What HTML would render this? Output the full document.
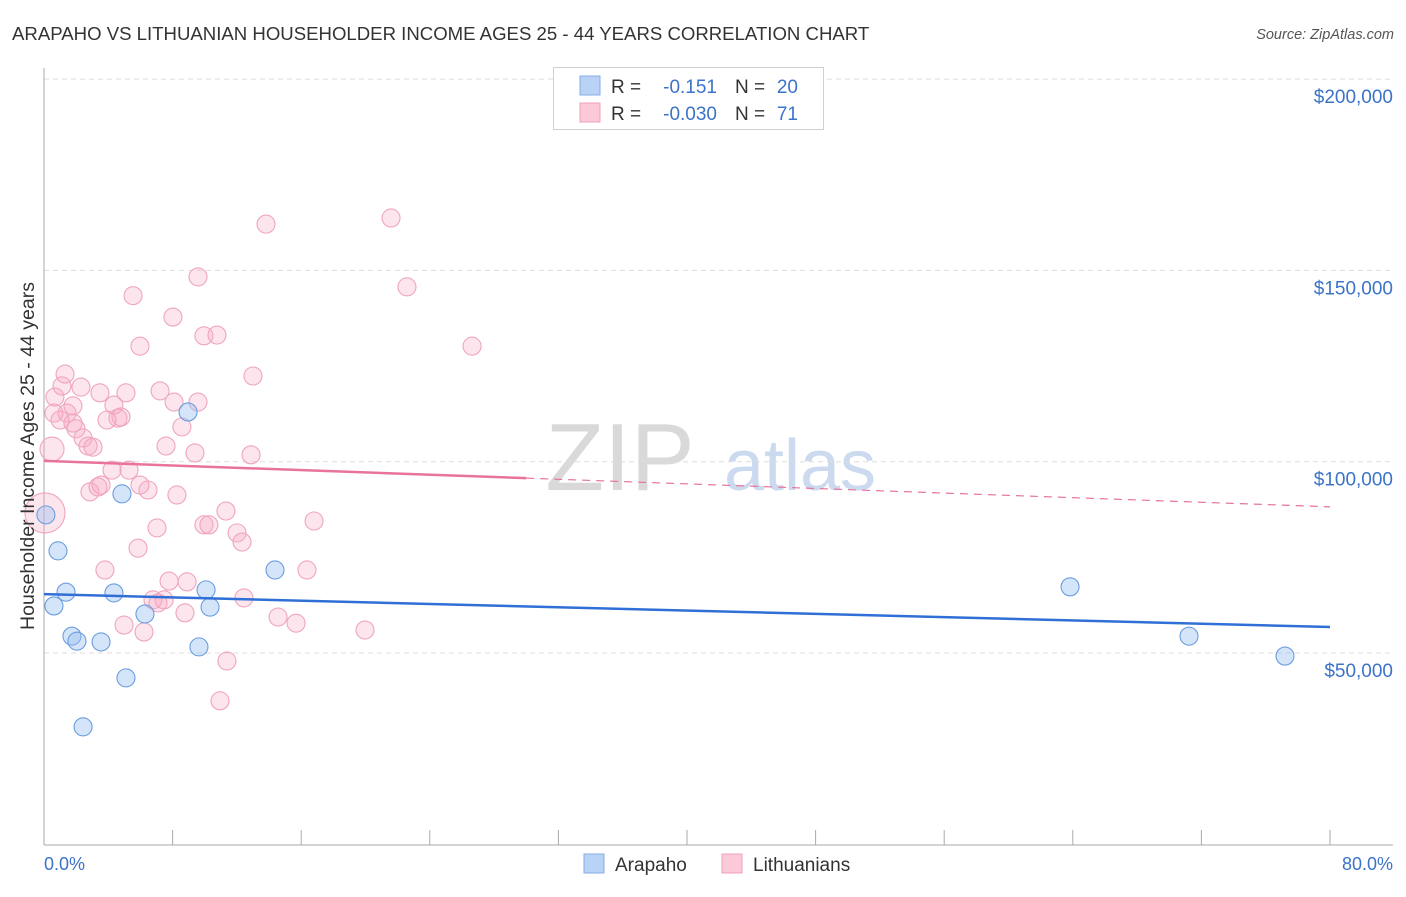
<!DOCTYPE html>
<html><head><meta charset="utf-8"><style>
body{margin:0;background:#fff;font-family:"Liberation Sans",sans-serif;}
svg text{font-family:"Liberation Sans",sans-serif;}
</style></head><body>
<svg id="c" width="1406" height="892" xmlns="http://www.w3.org/2000/svg">
<text x="12" y="40" font-size="18.6" fill="#333">ARAPAHO VS LITHUANIAN HOUSEHOLDER INCOME AGES 25 - 44 YEARS CORRELATION CHART</text>
<text x="1394" y="39" font-size="14.5" fill="#555" font-style="italic" text-anchor="end">Source: ZipAtlas.com</text>
<text x="620" y="490" font-size="96" fill="#d9d9d9" font-family="Liberation Serif" text-anchor="middle">ZIP</text>
<text x="800" y="490" font-size="72" fill="#cbdaef" text-anchor="middle">atlas</text>
<g id="grid"></g><g id="axes"></g><g id="pts"></g><g id="trend"></g>
<text transform="translate(34,456) rotate(-90)" font-size="19.5" fill="#333" text-anchor="middle">Householder Income Ages 25 - 44 years</text>
<text x="44" y="870" font-size="18" fill="#3b73c8">0.0%</text>
<text x="1393" y="870" font-size="18" fill="#3b73c8" text-anchor="end">80.0%</text>
<g>
<rect x="553.5" y="67.5" width="270" height="62" fill="#fff" stroke="#d0d0d0"/>
<rect x="580" y="76" width="20" height="19" fill="#b8d3f5" stroke="#86aee6"/>
<rect x="580" y="103" width="20" height="19" fill="#fcc9d8" stroke="#f0a0b8"/>
<text x="611" y="93" font-size="19" fill="#333">R = </text><text x="717" y="93" font-size="19" fill="#3b73c8" text-anchor="end">-0.151</text>
<text x="735" y="93" font-size="19" fill="#333">N = </text><text x="798" y="93" font-size="19" fill="#3b73c8" text-anchor="end">20</text>
<text x="611" y="120" font-size="19" fill="#333">R = </text><text x="717" y="120" font-size="19" fill="#3b73c8" text-anchor="end">-0.030</text>
<text x="735" y="120" font-size="19" fill="#333">N = </text><text x="798" y="120" font-size="19" fill="#3b73c8" text-anchor="end">71</text>
</g>
<g>
<rect x="584" y="854" width="20" height="19" fill="#b8d3f5" stroke="#86aee6"/>
<text x="615" y="871" font-size="19" fill="#333">Arapaho</text>
<rect x="722" y="854" width="20" height="19" fill="#fcc9d8" stroke="#f0a0b8"/>
<text x="753" y="871" font-size="19" fill="#333">Lithuanians</text>
</g>
</svg>
<script>
const yTicks=[50000,100000,150000,200000];
const yTickLabels=["$50,000","$100,000","$150,000","$200,000"];
const blueX=[0.12,0.87,0.62,1.37,1.74,2.05,3.55,2.43,4.85,4.35,5.10,6.28,8.96,10.08,10.33,9.64,14.37,63.83,71.23,77.20];
const blueY=[86.1,76.7,62.3,65.9,54.4,53.1,52.9,30.7,91.6,65.7,43.5,60.2,113.0,66.5,62.0,51.6,71.7,67.3,54.4,49.2];
const pinkX=[13.81,21.59,9.58,22.58,5.54,8.02,5.97,9.95,10.76,26.63,13.00,1.31,1.12,2.30,3.48,5.10,7.22,0.68,8.09,9.58,1.80,1.43,0.62,4.35,4.60,4.79,3.92,1.80,1.99,2.43,7.59,8.58,9.39,12.88,2.74,3.05,0.50,4.23,5.29,5.97,6.47,2.86,3.36,3.55,8.27,11.32,16.80,0.06,7.03,9.95,10.26,12.01,12.32,5.85,3.79,16.36,7.78,8.90,6.78,7.09,7.47,12.44,4.98,8.77,14.56,15.68,19.97,6.22,11.38,10.95,1.00];
const pinkY=[162.1,163.7,148.3,145.7,143.4,137.8,130.2,132.9,133.1,130.2,122.4,122.9,119.8,119.5,118.0,118.0,118.5,116.9,115.6,115.6,114.6,112.7,112.7,114.8,111.4,111.7,110.9,110.1,108.6,106.2,104.1,109.1,102.3,101.8,104.1,103.8,103.3,97.8,97.8,93.9,92.6,92.1,93.4,93.9,91.3,87.1,84.5,86.6,82.7,83.5,83.5,81.4,79.0,77.4,71.7,71.7,68.8,68.6,63.9,63.1,63.9,64.4,57.3,60.5,59.4,57.8,56.0,55.5,47.9,37.5,110.9];
const pinkSize=[];pinkSize[36]=12;pinkSize[47]=20;
const blueTrend=[65.4,56.8];
const pinkTrend=[100.2,88.2];
const pinkSolidEnd=30;
const NS="http://www.w3.org/2000/svg";
const X=p=>44+p*16.075;
const Y=k=>653-(k-50)*191.3/50;
function mk(t,a,parent){const e=document.createElementNS(NS,t);for(const k in a)e.setAttribute(k,a[k]);document.getElementById(parent).appendChild(e);return e;}
yTicks.forEach((v,i)=>{
 const y=Y(v/1000);
 const g=mk('line',{x1:44,x2:1393,y1:y,y2:y,stroke:'#ddd','stroke-dasharray':'5,4'},'grid');
 
 
 const t=mk('text',{x:1393,y:y+24,'font-size':19,fill:'#3b73c8','text-anchor':'end'},'grid');
 t.textContent=yTickLabels[i];
 
 
});
let ax=mk('line',{x1:44,x2:44,y1:68,y2:845,stroke:'#aaa'},'axes');


ax=mk('line',{x1:44,x2:1393,y1:845,y2:845,stroke:'#aaa'},'axes');


for(let i=0;i<=10;i++){const tk=mk('line',{x1:X(i*8),x2:X(i*8),y1:830,y2:845,stroke:'#aaa'},'axes');
 
 }
pinkX.forEach((p,i)=>{const c=mk('circle',{cx:X(p),cy:Y(pinkY[i]),r:pinkSize[i]||9,fill:'rgba(248,170,195,0.3)',stroke:'#efa5bd','stroke-width':1.1},'pts');
 
 });
blueX.forEach((p,i)=>{const c=mk('circle',{cx:X(p),cy:Y(blueY[i]),r:9,fill:'rgba(150,190,240,0.4)',stroke:'#6b9de0','stroke-width':1.1},'pts');
 
 });
const tv=(t,p)=>t[0]+(t[1]-t[0])*p/80;
let l=mk('line',{x1:X(0),y1:Y(tv(blueTrend,0)),x2:X(80),y2:Y(tv(blueTrend,80)),stroke:'#2f6fd6','stroke-width':2.5},'trend');


l=mk('line',{x1:X(0),y1:Y(tv(pinkTrend,0)),x2:X(pinkSolidEnd),y2:Y(tv(pinkTrend,pinkSolidEnd)),stroke:'#e8739b','stroke-width':2.5},'trend');


l=mk('line',{x1:X(pinkSolidEnd),y1:Y(tv(pinkTrend,pinkSolidEnd)),x2:X(80),y2:Y(tv(pinkTrend,80)),stroke:'#e8739b','stroke-width':1.2,'stroke-dasharray':'8,6'},'trend');


</script>
</body></html>
